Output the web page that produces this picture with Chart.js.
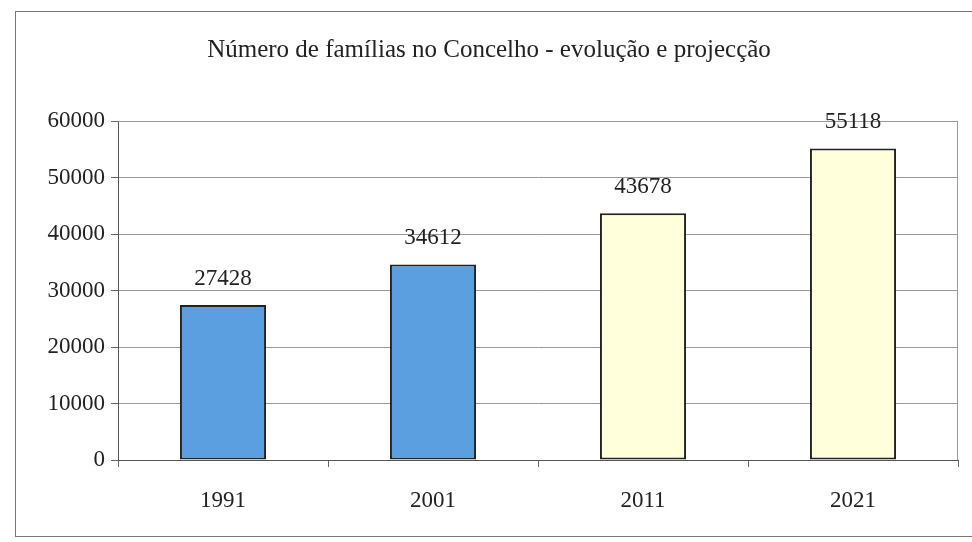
<!DOCTYPE html>
<html>
<head>
<meta charset="utf-8">
<script src="https://cdn.jsdelivr.net/npm/chart.js@4"></script>
<style>
  html, body { margin: 0; padding: 0; background: #fff; }
  #wrap { position: relative; width: 972px; height: 542px; }
</style>
</head>
<body>
<div id="wrap"><canvas id="chart" width="972" height="542"></canvas></div>
<script>
  // Data
  const years = ['1991', '2001', '2011', '2021'];
  const families = [27428, 34612, 43678, 55118];
  const barColors = ['#5b9fe0', '#5b9fe0', '#ffffdc', '#ffffdc'];
  const yTicks = [0, 10000, 20000, 30000, 40000, 50000, 60000];

  const serif = '"Liberation Serif", "Times New Roman", serif';

  // Outer frame, plot box and value labels
  const decor = {
    id: 'decor',
    beforeDraw(chart) {
      const c = chart.ctx;
      c.save();
      c.fillStyle = '#fff';
      c.fillRect(0, 0, chart.width, chart.height);
      c.strokeStyle = '#777';
      c.lineWidth = 1;
      c.strokeRect(15.5, 11.5, 960, 525);
      c.restore();
    },
    afterDatasetsDraw(chart) {
      const c = chart.ctx;
      const a = chart.chartArea;
      c.save();
      c.strokeStyle = '#999';
      c.lineWidth = 1;
      c.beginPath();
      c.moveTo(a.left, a.top + 0.5);
      c.lineTo(a.right - 0.5, a.top + 0.5);
      c.lineTo(a.right - 0.5, a.bottom);
      c.stroke();
      const meta = chart.getDatasetMeta(0);
      c.fillStyle = '#222';
      c.font = '23px ' + serif;
      c.textAlign = 'center';
      c.textBaseline = 'bottom';
      meta.data.forEach((bar, i) => {
        c.fillText(families[i], bar.x, bar.y - 15);
      });
      c.restore();
    }
  };

  new Chart(document.getElementById('chart'), {
    type: 'bar',
    data: {
      labels: years,
      datasets: [{
        data: families,
        backgroundColor: barColors,
        borderColor: '#222',
        borderWidth: 2,
        borderSkipped: false,
        categoryPercentage: 1,
        barPercentage: 0.41
      }]
    },
    plugins: [decor],
    options: {
      responsive: false,
      animation: false,
      layout: { padding: { left: 20, right: 14, top: 0, bottom: 0 } },
      plugins: {
        legend: { display: false },
        tooltip: { enabled: false },
        title: {
          display: true,
          text: 'Número de famílias no Concelho - evolução e projecção',
          color: '#222',
          font: { family: serif, size: 25, weight: 'normal' },
          padding: { top: 35, bottom: 56 }
        }
      },
      scales: {
        x: {
          offset: true,
          grid: {
            offset: true,
            drawOnChartArea: false,
            drawTicks: true,
            tickLength: 7,
            color: '#666'
          },
          border: { color: '#555', width: 1 },
          ticks: { color: '#222', padding: 20, font: { family: serif, size: 23 } },
          afterFit(scale) { scale.height = 82; }
        },
        y: {
          min: 0,
          max: 60000,
          afterBuildTicks(scale) { scale.ticks = yTicks.map(v => ({ value: v })); },
          grid: { color: '#999', tickLength: 7, tickColor: '#666' },
          border: { color: '#555', width: 1 },
          ticks: {
            color: '#222',
            padding: 6,
            font: { family: serif, size: 23 },
            callback: v => String(v)
          },
          afterFit(scale) { scale.width = 98; }
        }
      }
    }
  });
</script>
</body>
</html>
